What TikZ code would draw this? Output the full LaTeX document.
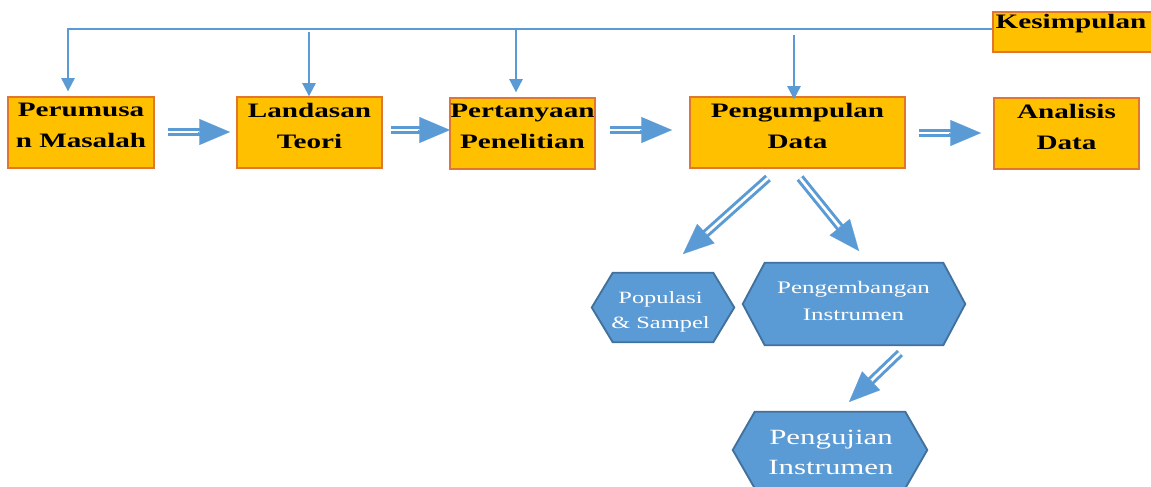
\documentclass[tikz,border=0pt]{standalone}
\usepackage{fontspec}
\setmainfont[FakeStretch=1.42]{Liberation Serif}
\usetikzlibrary{arrows.meta,calc}
\definecolor{boxfill}{HTML}{FFC000}
\definecolor{boxline}{HTML}{E2762E}
\definecolor{hexfill}{HTML}{5B9BD5}
\definecolor{hexline}{HTML}{41719C}
\definecolor{arrblue}{HTML}{5B9BD5}
\newcommand\blockarrow[2]{%
  \draw[shaft] (#1) -- ($(#2)!20pt!(#1)$);
  \draw[head] ($(#2)!24pt!(#1)$) -- (#2);}
\begin{document}
\begin{tikzpicture}[x=0.75pt,y=-0.75pt,
  box/.style={draw=boxline, fill=boxfill, line width=1pt, inner sep=0pt},
  btext/.style={font=\fontsize{15.4}{23.25}\selectfont\bfseries, align=center, inner sep=0pt, anchor=north},
  hexbox/.style={inner sep=0pt, draw=none},
  hexshape/.style={draw=hexline, fill=hexfill, line width=1.4pt, line join=miter},
  htext/.style={text=white, align=center, inner sep=0pt, anchor=north},
  thinarr/.style={draw=arrblue, line width=1.5pt, -{Triangle[width=10pt,length=10pt]}},
  shaft/.style={draw=arrblue, double=white, line width=2.25pt, double distance=2pt},
  head/.style={draw=arrblue, fill=arrblue, line width=0.1pt, -{Triangle[width=19.5pt,length=23pt]}}
]
\useasboundingbox (0,0) rectangle (1151,486);

% boxes
\node[box, minimum width=109.5pt, minimum height=53.25pt] (per) at (81,132.5) {};
\node[box, minimum width=108.75pt, minimum height=53.25pt] (lan) at (309.5,132.5) {};
\node[box, minimum width=108.75pt, minimum height=53.25pt] (pert) at (522.5,133.5) {};
\node[box, minimum width=161.25pt, minimum height=53.25pt] (peng) at (797.5,132.5) {};
\node[box, minimum width=108.75pt, minimum height=53.25pt] (ana) at (1066.5,133.5) {};
\node[box, minimum width=121.5pt, minimum height=30pt] (kes) at (1074,32) {};

\node[btext] (per-t) at ([yshift=-4.9pt]per.north) {Perumusa\\n Masalah};
\node[btext] (lan-t) at ([yshift=-4.9pt]lan.north) {Landasan\\Teori};
\node[btext] (pert-t) at ([yshift=-4.9pt]pert.north) {Pertanyaan\\Penelitian};
\node[btext] (peng-t) at ([yshift=-4.9pt]peng.north) {Pengumpulan\\Data};
\node[btext] (ana-t) at ([yshift=-4.9pt]ana.north) {Analisis\\Data};
\node[btext] (kes-t) at ([xshift=-2.25pt,yshift=-2pt]kes.north) {Kesimpulan};

% hexagons
\node[hexbox, minimum width=106.5pt, minimum height=51.75pt] (pop) at (663,307.5) {};
\path[hexshape] (pop.west) -- ([xshift=15.75pt]pop.north west) -- ([xshift=-15.75pt]pop.north east)
  -- (pop.east) -- ([xshift=-15.75pt]pop.south east) -- ([xshift=15.75pt]pop.south west) -- cycle;
\node[hexbox, minimum width=166.5pt, minimum height=61.5pt] (dev) at (854,304) {};
\path[hexshape] (dev.west) -- ([xshift=16.5pt]dev.north west) -- ([xshift=-16.5pt]dev.north east)
  -- (dev.east) -- ([xshift=-16.5pt]dev.south east) -- ([xshift=16.5pt]dev.south west) -- cycle;
\node[hexbox, minimum width=145.5pt, minimum height=57pt] (uji) at (830,450) {};
\path[hexshape] (uji.west) -- ([xshift=16.5pt]uji.north west) -- ([xshift=-16.5pt]uji.north east)
  -- (uji.east) -- ([xshift=-16.5pt]uji.south east) -- ([xshift=16.5pt]uji.south west) -- cycle;

\node[htext, font=\fontsize{12.9}{18.75}\selectfont] (pop-t) at (660.5,291) {Populasi\\\& Sampel};
\node[htext, font=\fontsize{13.2}{20.25}\selectfont] (dev-t) at (853.5,281) {Pengembangan\\Instrumen};
\node[htext, font=\fontsize{16.3}{22.5}\selectfont] (uji-t) at (831,430) {Pengujian\\Instrumen};

% feedback line from Kesimpulan
\coordinate (tl) at (68,29);
\draw[thinarr] (kes.west |- tl) -- (tl) -- ($(per.north -| tl)+(0,-5)$);
\coordinate (d2) at (309,32);
\draw[thinarr] (d2) -- (lan.north -| d2);
\coordinate (d3) at (516,29);
\draw[thinarr] (d3) -- ($(pert.north -| d3)+(0,-5)$);
\coordinate (d4) at (794,35);
\draw[thinarr] (d4) -- ($(peng.north -| d4)+(0,3)$);

% block arrows
\coordinate (a1s) at (168,132); \coordinate (a1t) at (230,132);
\coordinate (a2s) at (391,130); \coordinate (a2t) at (450,130);
\coordinate (a3s) at (610,130); \coordinate (a3t) at (672,130);
\coordinate (a4s) at (919,133); \coordinate (a4t) at (981,133);
\coordinate (a5s) at (768,178); \coordinate (a5t) at (683,254);
\coordinate (a6s) at (800,178); \coordinate (a6t) at (859,251);
\coordinate (a7s) at (900,353); \coordinate (a7t) at (849,402);
\blockarrow{a1s}{a1t}
\blockarrow{a2s}{a2t}
\blockarrow{a3s}{a3t}
\blockarrow{a4s}{a4t}
\blockarrow{a5s}{a5t}
\blockarrow{a6s}{a6t}
\blockarrow{a7s}{a7t}
\end{tikzpicture}
\end{document}
